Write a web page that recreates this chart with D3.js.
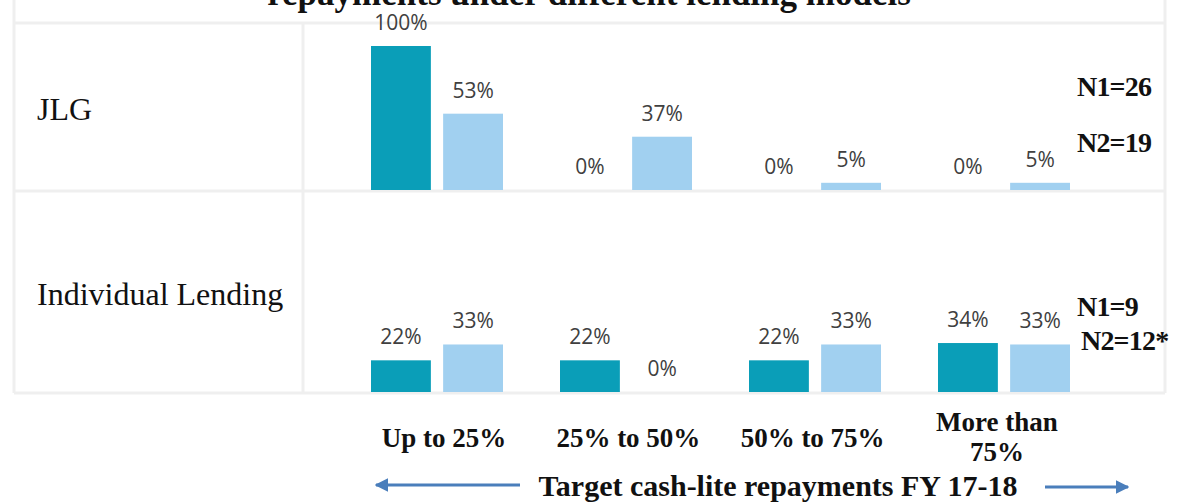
<!DOCTYPE html>
<html><head><meta charset="utf-8">
<script src="https://cdn.jsdelivr.net/npm/d3@7/dist/d3.min.js"></script>
<style>body{margin:0;background:#fff}svg{display:block}</style>
</head><body>
<svg id="c" width="1186" height="503"></svg>
<script>
const categories = ["Up to 25%", "25% to 50%", "50% to 75%", "More than 75%"];
const categoryLines = [["Up to 25%"], ["25% to 50%"], ["50% to 75%"], ["More than", "75%"]];
const rowLabels = ["JLG", "Individual Lending"];
const seriesKeys = ["N1", "N2"];
const jlgN1 = [100, 0, 0, 0];
const jlgN2 = [53, 37, 5, 5];
const indN1 = [22, 22, 22, 34];
const indN2 = [33, 0, 33, 33];
const nLabels = [["N1=26", "N2=19"], ["N1=9", "N2=12*"]];
const titleText = "repayments under different lending models";
const axisTitle = "Target cash-lite repayments FY 17-18";

const svg = d3.select("#c");
const grid = "#efefef";
const colors = {N1: "#0a9eb8", N2: "#a1d0f0"};

// title (clipped at top, as in the source)
svg.append("text").attr("x", 589).attr("y", 5).attr("text-anchor", "middle")
  .attr("font-family", "Liberation Serif").attr("font-weight", "bold").attr("font-size", 35)
  .attr("fill", "#111").text(titleText);

// table lines
const L = 14, R = 1165, T = 23, M = 191, B = 393, V = 303;
const g = svg.append("g").attr("stroke", grid).attr("stroke-width", 3);
g.append("line").attr("x1", L).attr("x2", L).attr("y1", 0).attr("y2", B);
g.append("line").attr("x1", R).attr("x2", R).attr("y1", 0).attr("y2", B);
g.append("line").attr("x1", L).attr("x2", R).attr("y1", T).attr("y2", T);
g.append("line").attr("x1", L).attr("x2", R).attr("y1", M).attr("y2", M);
g.append("line").attr("x1", L).attr("x2", R).attr("y1", B).attr("y2", B);
g.append("line").attr("x1", V).attr("x2", V).attr("y1", T).attr("y2", B);

const x0 = d3.scaleBand().domain(categories).range([343, 1099]).padding(0);
const x1 = d3.scaleBand().domain(seriesKeys).range([28, 160]).paddingInner(0.17);
const xl = d3.scaleBand().domain(categories).range([352, 1089]).padding(0);
const h = d3.scaleLinear().domain([0, 100]).range([0, 144]);

const rows = [
  {label: rowLabels[0], base: 190, data: {N1: jlgN1, N2: jlgN2}, labelY: 120, n: nLabels[0]},
  {label: rowLabels[1], base: 392, data: {N1: indN1, N2: indN2}, labelY: 305, n: nLabels[1]}
];

rows.forEach((row, ri) => {
  svg.append("text").attr("x", 37).attr("y", row.labelY)
    .attr("font-family", "Liberation Serif").attr("font-size", 32).attr("fill", "#111")
    .text(row.label);
  const y = d3.scaleLinear().domain([0, 100]).range([row.base, row.base - h(100)]);
  seriesKeys.forEach(k => {
    const vals = categories.map((c, i) => ({c, v: row.data[k][i]}));
    svg.append("g").selectAll("rect").data(vals).join("rect")
      .attr("x", d => x0(d.c) + x1(k))
      .attr("width", x1.bandwidth())
      .attr("y", d => y(d.v))
      .attr("height", d => row.base - y(d.v))
      .attr("fill", colors[k]);
    svg.append("g").selectAll("text").data(vals).join("text")
      .attr("x", d => x0(d.c) + x1(k) + x1.bandwidth() / 2)
      .attr("y", d => y(d.v) - 16)
      .attr("text-anchor", "middle")
      .attr("font-family", "Open Sans").attr("font-size", 21).attr("fill", "#404040")
      .text(d => d.v + "%");
  });
});

// N labels
const nPos = [[[1077, 96], [1077, 152]], [[1077, 316], [1081, 350]]];
rows.forEach((row, ri) => {
  row.n.forEach((t, j) => {
    svg.append("text").attr("x", nPos[ri][j][0]).attr("y", nPos[ri][j][1])
      .attr("font-family", "Liberation Serif").attr("font-weight", "bold").attr("font-size", 28)
      .attr("letter-spacing", -0.8).attr("fill", "#111").text(t);
  });
});

// category labels
categories.forEach((c, i) => {
  const cx = xl(c) + xl.bandwidth() / 2;
  const lines = categoryLines[i];
  const startY = lines.length === 1 ? 447 : 431;
  lines.forEach((ln, j) => {
    svg.append("text").attr("x", cx).attr("y", startY + j * 30)
      .attr("text-anchor", "middle")
      .attr("font-family", "Liberation Serif").attr("font-weight", "bold").attr("font-size", 27)
      .attr("fill", "#111").text(ln);
  });
});

// axis title with arrows
svg.append("defs").html(
  '<marker id="ah" viewBox="0 0 10 10" refX="9" refY="5" markerWidth="4.5" markerHeight="4.5" orient="auto-start-reverse"><path d="M0,0 L10,5 L0,10 z" fill="#4a7ebb"/></marker>');
svg.append("line").attr("x1", 520).attr("x2", 376).attr("y1", 485).attr("y2", 485)
  .attr("stroke", "#4a7ebb").attr("stroke-width", 3).attr("marker-end", "url(#ah)");
svg.append("line").attr("x1", 1045).attr("x2", 1128).attr("y1", 487).attr("y2", 487)
  .attr("stroke", "#4a7ebb").attr("stroke-width", 3).attr("marker-end", "url(#ah)");
svg.append("text").attr("x", 778).attr("y", 496).attr("text-anchor", "middle")
  .attr("font-family", "Liberation Serif").attr("font-weight", "bold").attr("font-size", 30)
  .attr("fill", "#111").text(axisTitle);
</script>
</body></html>
